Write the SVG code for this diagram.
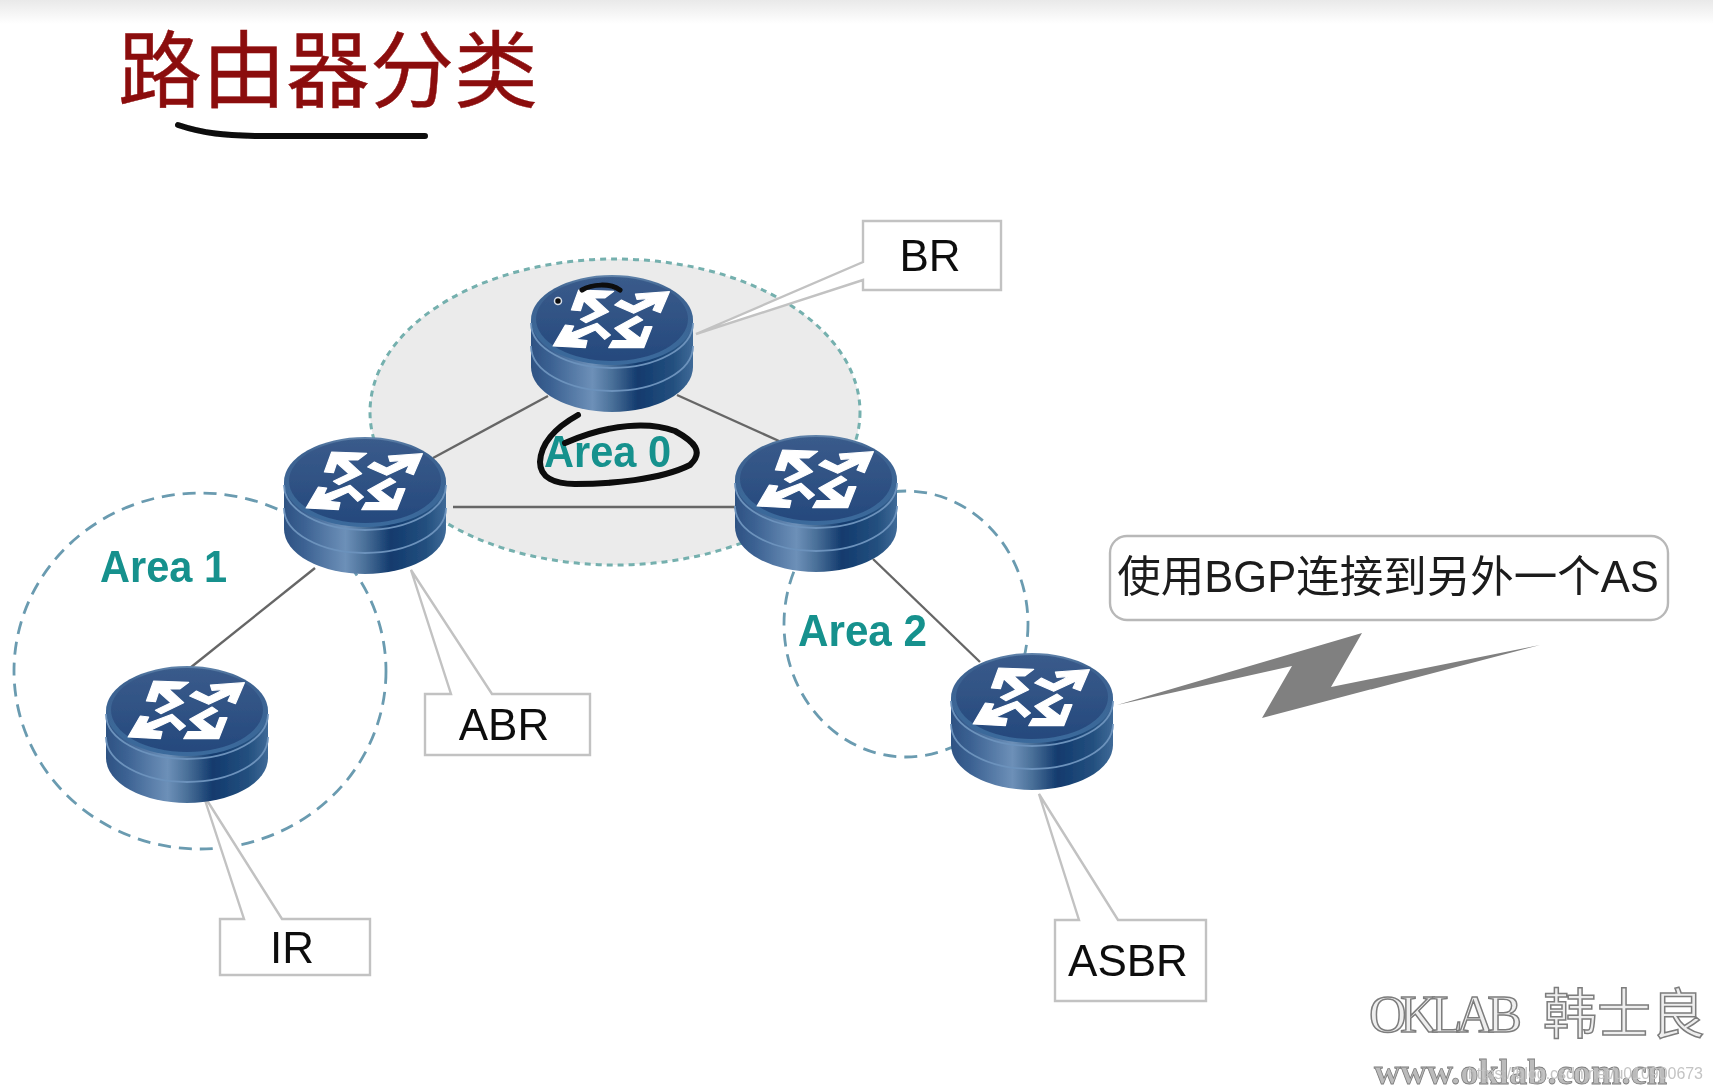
<svg xmlns="http://www.w3.org/2000/svg" width="1713" height="1091" viewBox="0 0 1713 1091">
<style>
.label{font-family:"Liberation Sans",Arial,sans-serif;font-size:44px;fill:#111;text-anchor:middle}
.area{font-family:"Liberation Sans",Arial,sans-serif;font-size:44px;font-weight:700;fill:#14918d}
.callout{fill:#fff;stroke:#c2c2c2;stroke-width:2.4}
.link{stroke:#666;stroke-width:2.4;fill:none}
.ink{fill:none;stroke:#0a0a0a;stroke-width:6;stroke-linecap:round;stroke-linejoin:round}
.wm{font-family:"Liberation Serif","Noto Sans CJK SC",serif;fill:#eee;stroke:#7d7d7d;stroke-width:1.5}
.head{fill:#fff;stroke:#fff;stroke-width:1.2;stroke-linejoin:round}
</style>
<defs>
<linearGradient id="band" x1="0" y1="0" x2="0" y2="1"><stop offset="0" stop-color="#e9e9e9"/><stop offset="1" stop-color="#fff"/></linearGradient>
<linearGradient id="body" x1="0" y1="0" x2="1" y2="0">
<stop offset="0" stop-color="#2e5283"/><stop offset=".12" stop-color="#3b6192"/><stop offset=".38" stop-color="#6d90b8"/><stop offset=".5" stop-color="#4a7099"/><stop offset=".66" stop-color="#123a6d"/><stop offset=".88" stop-color="#24507f"/><stop offset="1" stop-color="#3f6a98"/>
</linearGradient>
<linearGradient id="cap" x1="0" y1="0" x2="0" y2="1"><stop offset="0" stop-color="#6184ab"/><stop offset=".16" stop-color="#3d6290"/><stop offset="1" stop-color="#3a6a9c"/></linearGradient>
<linearGradient id="capin" x1="0" y1="0" x2="0" y2="1"><stop offset="0" stop-color="#3a5b8b"/><stop offset="1" stop-color="#25497d"/></linearGradient>
<filter id="soft" filterUnits="userSpaceOnUse" x="0" y="0" width="1713" height="1091"><feGaussianBlur stdDeviation=".6"/></filter>
<g id="router">
<path d="M-81,45V92A81,45 0 0 0 81,92V45Z" fill="url(#body)"/>
<ellipse cx="0" cy="45" rx="81" ry="45" fill="url(#cap)"/>
<ellipse cx="0" cy="44" rx="76" ry="42" fill="url(#capin)"/>
<path d="M-81,48A81,45 0 0 0 81,48" fill="none" stroke="#6c92bc" stroke-width="1.8"/>
<path d="M-81,71A81,45 0 0 0 81,71" fill="none" stroke="#6c92bc" stroke-width="1.8"/>
<path class="head" d="M-33.3,15L1.7,16.3L-7.3,23L-18.3,23L-3.3,36.7L-26,47.7L-31.6,44.3L-16,36.7L-28.3,25.7L-31.6,35.7L-40.6,35Z"/>
<path class="head" d="M57.4,16.7L48.4,37.7L41,35L44.4,27.7L21.7,38.3L2.7,30L9.4,25L21.7,31L37.4,23.3L25,24.3L23.4,19Z"/>
<path class="head" d="M-58.9,71L-46.6,50L-38.3,51L-41.6,58.3L-15,48.3L-1.6,60L-7.3,64.3L-16.6,55L-36.6,64.3L-25,65.7L-26.6,72.7Z"/>
<path class="head" d="M31.7,72.7L-3.3,72.7L0.7,65.7L16.7,65.7L2.7,53.3L25,41L30.7,45L15,53.3L28.4,63.3L32.7,51.7L40,51.7Z"/>
</g>
</defs>
<rect width="1713" height="1091" fill="#fff"/>
<g id="scene" filter="url(#soft)">
<rect width="1713" height="24" fill="url(#band)"/>
<g id="title">
<text x="328" y="101" font-family="'Noto Sans CJK SC','Noto Sans',sans-serif" font-size="84" fill="#8b0a0a" stroke="#8b0a0a" stroke-width=".4" text-anchor="middle">路由器分类</text>
<path class="ink" d="M178,125C205,134 225,135 255,136L425,136" stroke-width="5"/>
</g>
<g id="areas">
<ellipse id="area0-zone" cx="615" cy="412" rx="245" ry="153" fill="#ebebeb" stroke="#74b0ae" stroke-width="3" stroke-dasharray="6 5"/>
<ellipse id="area1-zone" cx="200" cy="671" rx="186" ry="178" fill="none" stroke="#6a9bb0" stroke-width="2.8" stroke-dasharray="13 8"/>
<ellipse id="area2-zone" cx="906" cy="624" rx="122" ry="133" fill="none" stroke="#6a9bb0" stroke-width="2.8" stroke-dasharray="13 8"/>
</g>
<g id="connectors">
<line class="link" x1="433" y1="458" x2="548" y2="396"/>
<line class="link" x1="677" y1="395" x2="779" y2="441"/>
<line class="link" x1="453" y1="507" x2="737" y2="507" stroke-width="3.4"/>
<line class="link" x1="315" y1="568" x2="190" y2="668"/>
<line class="link" x1="873" y1="559" x2="980" y2="662"/>
</g>
<g id="node-br">
<path class="callout" d="M696,334L863,262V221H1001V290H863V280Z"/>
<use href="#router" x="612" y="275"/>
<path d="M582,290C592,284 610,283 620,290" fill="none" stroke="#0a0a0a" stroke-width="5" stroke-linecap="round"/>
<circle cx="558" cy="301" r="3.5" fill="#111" stroke="#d8e0ea" stroke-width="1.5"/>
<text class="label" x="930" y="271">BR</text>
</g>
<g id="node-abr-left">
<path class="callout" d="M411,570L451,694H425V755H590V694H492Z"/>
<use href="#router" x="365" y="437"/>
<text class="label" x="504" y="740">ABR</text>
</g>
<g id="node-abr-right">
<use href="#router" x="816" y="435"/>
</g>
<g id="node-ir">
<path class="callout" d="M203,794L244,919H220V975H370V919H282Z"/>
<use href="#router" x="187" y="666"/>
<text class="label" x="292" y="963">IR</text>
</g>
<g id="node-asbr">
<path class="callout" d="M1039,794L1079,920H1055V1001H1206V920H1118Z"/>
<use href="#router" x="1032" y="653"/>
<text class="label" x="1128" y="976">ASBR</text>
</g>
<g id="lightning"><path d="M1117,705L1362,633L1331,687L1540,645L1262,718L1292,666Z" fill="#808080"/></g>
<g id="note">
<rect x="1110" y="536" width="558" height="84" rx="17" fill="#fff" stroke="#b8b8b8" stroke-width="2.4"/>
<text x="1388" y="592" font-family="'Liberation Sans','Noto Sans CJK SC',sans-serif" font-size="43.5" fill="#1a1a1a" text-anchor="middle">使用BGP连接到另外一个AS</text>
</g>
<g id="area-labels">
<text class="area" x="544" y="467" textLength="127" lengthAdjust="spacingAndGlyphs">Area 0</text>
<text class="area" x="100" y="582" textLength="127" lengthAdjust="spacingAndGlyphs">Area 1</text>
<text class="area" x="798" y="646" textLength="129" lengthAdjust="spacingAndGlyphs">Area 2</text>
<path class="ink" d="M578,415C560,425 541,440 540,462C540,478 555,484 575,484C610,484 660,480 690,465C704,452 695,442 675,431C650,422 610,423 565,443"/>
</g>
<g id="watermark">
<text class="wm" x="1369" y="1032" font-size="52" textLength="153">OKLAB</text>
<text class="wm" x="1543" y="1034" font-size="54" style="font-family:'Noto Sans CJK SC',serif">韩士良</text>
<text class="wm" x="1374" y="1084" font-size="36.5" font-weight="700" style="fill:#bbb;stroke-width:.8">www.oklab.com.cn</text>
<text x="1468" y="1079" font-family="'Liberation Sans',sans-serif" font-size="16" fill="#c4c4c4" textLength="235">https://blog.csdn.net/u010900673</text>
</g>
</g>
</svg>
